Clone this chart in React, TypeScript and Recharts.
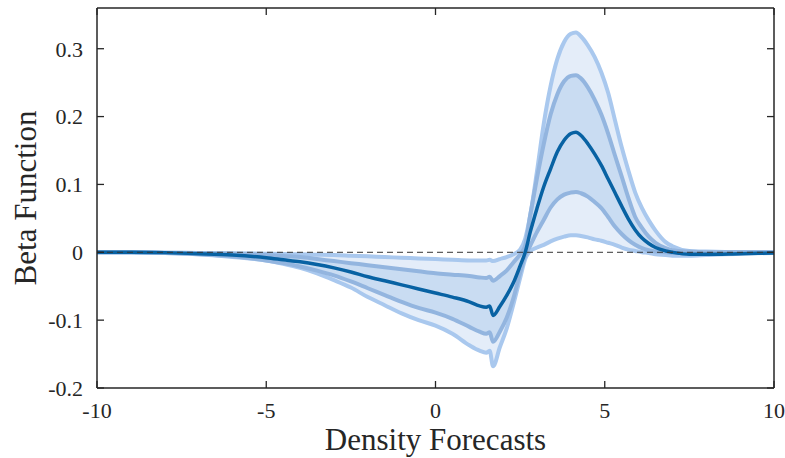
import {
  ComposedChart,
  Line,
  Area,
  XAxis,
  YAxis,
  ReferenceLine,
  Label,
} from "recharts";

// grid of density forecast values
const xs = [
  -10, -9, -8, -7, -6, -5, -4.5, -4, -3.5, -3, -2.5, -2, -1.5, -1, -0.5, 0, 0.5, 1, 1.3, 1.5, 1.6, 1.7,
  1.9, 2.1, 2.3, 2.5, 2.65, 2.8, 3.0, 3.2, 3.4, 3.6, 3.8, 4.0, 4.15, 4.3, 4.5, 4.7, 4.9, 5.1, 5.3,
  5.5, 5.7, 5.9, 6.1, 6.3, 6.5, 6.8, 7.0, 7.5, 8, 9, 10,
];

const median = [
  0, 0, -0.0005, -0.002, -0.004, -0.008, -0.011, -0.014, -0.018, -0.023, -0.029, -0.036, -0.042, -0.048,
  -0.054, -0.06, -0.066, -0.073, -0.079, -0.081, -0.079, -0.093, -0.08, -0.064, -0.045, -0.02, 0, 0.03,
  0.065, 0.097, 0.123, 0.148, 0.165, 0.175, 0.177, 0.172, 0.16, 0.145, 0.128, 0.108, 0.088, 0.068,
  0.049, 0.033, 0.021, 0.013, 0.007, 0.002, 0, -0.003, -0.003, -0.002, -0.001,
];

const outerUpper = [
  0, 0, -0.0005, -0.001, -0.0015, -0.002, -0.0025, -0.003, -0.0035, -0.004, -0.005, -0.006, -0.007,
  -0.008, -0.009, -0.01, -0.011, -0.012, -0.012, -0.012, -0.011, -0.013, -0.01, -0.007, -0.003, 0.004,
  0.02, 0.055, 0.12, 0.19, 0.245, 0.285, 0.31, 0.322, 0.324, 0.318, 0.305, 0.288, 0.265, 0.235, 0.195,
  0.155, 0.12, 0.088, 0.065, 0.047, 0.032, 0.015, 0.009, 0.002, 0.001, 0, 0,
];

const innerUpper = [
  0, 0, -0.0005, -0.001, -0.002, -0.004, -0.0055, -0.007, -0.01, -0.013, -0.016, -0.019, -0.022, -0.025,
  -0.028, -0.031, -0.033, -0.035, -0.037, -0.038, -0.036, -0.042, -0.035, -0.027, -0.015, -0.003, 0.01,
  0.055, 0.11, 0.16, 0.203, 0.233, 0.252, 0.26, 0.261, 0.256, 0.243, 0.225, 0.203, 0.175, 0.143, 0.112,
  0.08, 0.052, 0.036, 0.023, 0.014, 0.006, 0.003, 0.001, 0, 0, 0,
];

const innerLower = [
  0, 0, -0.001, -0.003, -0.006, -0.012, -0.016, -0.021, -0.027, -0.034, -0.043, -0.053, -0.063, -0.073,
  -0.082, -0.089, -0.098, -0.11, -0.117, -0.12, -0.118, -0.132, -0.117, -0.097, -0.068, -0.03, -0.005,
  0.01, 0.03, 0.048, 0.066, 0.078, 0.085, 0.088, 0.089, 0.087, 0.082, 0.074, 0.065, 0.052, 0.038, 0.027,
  0.018, 0.011, 0.006, 0.003, 0.001, 0, -0.001, -0.001, -0.001, 0, 0,
];

const outerLower = [
  0, 0, -0.001, -0.003, -0.007, -0.012, -0.017, -0.023, -0.031, -0.041, -0.052, -0.066, -0.078, -0.09,
  -0.1, -0.108, -0.12, -0.137, -0.145, -0.148, -0.145, -0.168, -0.14, -0.113, -0.077, -0.038, -0.01,
  0.002, 0.007, 0.011, 0.016, 0.02, 0.023, 0.025, 0.025, 0.024, 0.022, 0.019, 0.017, 0.014, 0.011, 0.007,
  0.004, 0.002, 0, -0.001, -0.003, -0.004, -0.005, -0.005, -0.004, -0.002, -0.001,
];

const xTicks = [-10, -5, 0, 5, 10];
const yTicks = [-0.2, -0.1, 0, 0.1, 0.2, 0.3];

const data = xs.map((x, i) => ({
  x,
  median: median[i],
  ou: outerUpper[i],
  iu: innerUpper[i],
  il: innerLower[i],
  ol: outerLower[i],
  outerBand: [outerLower[i], outerUpper[i]],
  innerBand: [innerLower[i], innerUpper[i]],
}));

const AXIS = "#262626";
const FONT = "'Liberation Serif', 'Times New Roman', serif";
const TICK_LEN = 7;
const tickText = { fontFamily: FONT, fontSize: 22, fill: AXIS };

// inward tick marks on both ends of a reference line (MATLAB box style)
function VTicks(p: any) {
  const top = Math.min(p.y1, p.y2);
  const bot = Math.max(p.y1, p.y2);
  return (
    <g>
      <line x1={p.x1} y1={top} x2={p.x1} y2={top + TICK_LEN} stroke={AXIS} strokeWidth={1.3} />
      <line x1={p.x1} y1={bot} x2={p.x1} y2={bot - TICK_LEN} stroke={AXIS} strokeWidth={1.3} />
    </g>
  );
}

function HTicks(p: any) {
  const left = Math.min(p.x1, p.x2);
  const right = Math.max(p.x1, p.x2);
  return (
    <g>
      <line x1={left} y1={p.y1} x2={left + TICK_LEN} y2={p.y1} stroke={AXIS} strokeWidth={1.3} />
      <line x1={right} y1={p.y1} x2={right - TICK_LEN} y2={p.y1} stroke={AXIS} strokeWidth={1.3} />
    </g>
  );
}

export default function App() {
  const axisLine = { stroke: AXIS, strokeWidth: 1.5 };
  return (
    <div style={{ position: "absolute", left: 0, top: 0, background: "#fff" }}>
      <ComposedChart width={785} height={458} data={data} margin={{ top: 7, right: 10, bottom: 0, left: 0 }}>
        <XAxis
          dataKey="x"
          type="number"
          domain={[-10, 10]}
          ticks={xTicks}
          height={70}
          tickSize={0}
          tickMargin={14}
          tickLine={false}
          axisLine={axisLine}
          tick={tickText}
          interval={0}
        >
          <Label
            value="Density Forecasts"
            position="insideBottom"
            offset={8}
            style={{ fontFamily: FONT, fontSize: 31, fill: AXIS }}
          />
        </XAxis>
        <XAxis
          xAxisId="top"
          orientation="top"
          dataKey="x"
          type="number"
          domain={[-10, 10]}
          ticks={xTicks}
          height={1}
          tickLine={false}
          axisLine={axisLine}
          tick={false}
        />
        <YAxis
          type="number"
          domain={[-0.2, 0.36]}
          ticks={yTicks}
          width={97}
          tickSize={0}
          tickMargin={14}
          tickLine={false}
          axisLine={axisLine}
          tick={tickText}
          interval={0}
        >
          <Label
            value="Beta Function"
            angle={-90}
            position="insideLeft"
            offset={25}
            style={{ fontFamily: FONT, fontSize: 31, fill: AXIS, textAnchor: "middle" }}
          />
        </YAxis>
        <YAxis
          yAxisId="right"
          orientation="right"
          type="number"
          domain={[-0.2, 0.36]}
          ticks={yTicks}
          width={1}
          tickLine={false}
          axisLine={axisLine}
          tick={false}
        />
        <Area
          dataKey="outerBand"
          type="monotone"
          stroke="none"
          fill="#e4edf9"
          fillOpacity={1}
          isAnimationActive={false}
        />
        <Area
          dataKey="innerBand"
          type="monotone"
          stroke="none"
          fill="#c9dcf2"
          fillOpacity={1}
          isAnimationActive={false}
        />
        <Line dataKey="ou" type="monotone" stroke="#a9c8ee" strokeWidth={4} dot={false} isAnimationActive={false} />
        <Line dataKey="ol" type="monotone" stroke="#a9c8ee" strokeWidth={4} dot={false} isAnimationActive={false} />
        <Line dataKey="iu" type="monotone" stroke="#93b5df" strokeWidth={4} dot={false} isAnimationActive={false} />
        <Line dataKey="il" type="monotone" stroke="#93b5df" strokeWidth={4} dot={false} isAnimationActive={false} />
        <Line
          dataKey="median"
          type="monotone"
          stroke="#0862a3"
          strokeWidth={3.5}
          dot={false}
          isAnimationActive={false}
        />
        <ReferenceLine y={0} stroke="#333" strokeWidth={1} strokeDasharray="6 4" />
        {xTicks.map((t) => (
          <ReferenceLine key={`xt${t}`} x={t} shape={VTicks} />
        ))}
        {yTicks.map((t) => (
          <ReferenceLine key={`yt${t}`} y={t} shape={HTicks} />
        ))}
      </ComposedChart>
    </div>
  );
}
